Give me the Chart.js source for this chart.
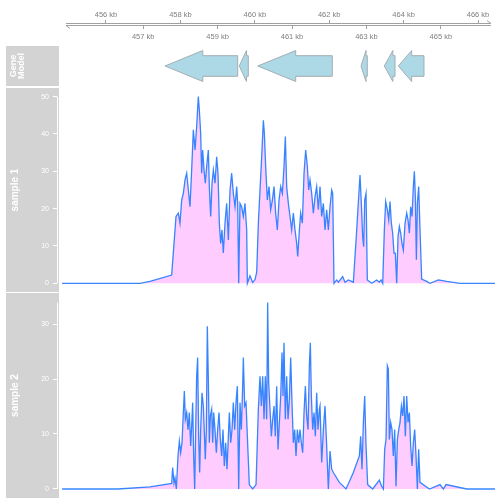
<!DOCTYPE html>
<html lang="en">
<head>
<meta charset="UTF-8">
<title>Coverage tracks</title>
<script src="https://cdn.jsdelivr.net/npm/chart.js"></script>
<style>
    * { margin: 0; padding: 0; box-sizing: border-box; }
    body { width: 504px; height: 504px; background: #fff; position: relative; overflow: hidden; }
    canvas { position: absolute; left: 0; }
</style>
</head>
<body>
<canvas id="axisChart" width="504" height="45" style="top:0px"></canvas>
<canvas id="geneChart" width="504" height="40" style="top:46px"></canvas>
<canvas id="sample1Chart" width="504" height="204" style="top:88px"></canvas>
<canvas id="sample2Chart" width="504" height="205" style="top:293px"></canvas>
<script>
// genome window in kb
const viewStart = 454.683;
const viewEnd = 466.591;

// axis tick labels (kb), even above the line, odd below
const evenTicks = [456, 458, 460, 462, 464, 466];
const oddTicks = [457, 459, 461, 463, 465];

// gene models (all on minus strand)
const geneStart = [457.586, 459.583, 460.078, 462.855, 463.481, 463.858];
const geneEnd = [459.540, 459.825, 462.083, 463.024, 463.769, 464.548];

// sample 1 coverage
const pos1 = [
    454.82, 456.914, 457.183, 457.765, 457.882, 457.945, 457.989, 458.034, 458.079, 458.124,
    458.169, 458.214, 458.258, 458.303, 458.348, 458.393, 458.437, 458.482, 458.509, 458.545,
    458.572, 458.599, 458.635, 458.670, 458.706, 458.751, 458.778, 458.814, 458.850, 458.886,
    458.930, 458.975, 459.011, 459.047, 459.083, 459.118, 459.154, 459.199, 459.244, 459.289,
    459.334, 459.378, 459.423, 459.468, 459.513, 459.540, 459.567, 459.602, 459.647, 459.692,
    459.737, 459.782, 459.800, 459.871, 459.943, 460.006, 460.051, 460.095, 460.140, 460.185,
    460.230, 460.257, 460.292, 460.337, 460.382, 460.427, 460.472, 460.517, 460.561, 460.606,
    460.651, 460.696, 460.741, 460.785, 460.821, 460.857, 460.902, 460.947, 460.991, 461.036,
    461.081, 461.126, 461.153, 461.198, 461.233, 461.278, 461.323, 461.368, 461.413, 461.448,
    461.484, 461.529, 461.574, 461.619, 461.663, 461.708, 461.753, 461.798, 461.843, 461.887,
    461.932, 461.977, 462.022, 462.067, 462.094, 462.129, 462.201, 462.246, 462.362, 462.425,
    462.515, 462.649, 462.739, 462.792, 462.828, 462.864, 462.900, 462.927, 462.954, 462.990,
    463.025, 463.142, 463.276, 463.348, 463.393, 463.438, 463.482, 463.518, 463.563, 463.599,
    463.635, 463.671, 463.706, 463.742, 463.778, 463.814, 463.850, 463.886, 463.922, 463.957,
    463.993, 464.038, 464.083, 464.119, 464.155, 464.190, 464.226, 464.262, 464.289, 464.316,
    464.343, 464.370, 464.405, 464.441, 464.486, 464.621, 464.710, 464.934, 465.158, 465.517,
    466.457
];
const cov1 = [
    0, 0, 0.5, 2.2, 17.9, 18.8, 16.1, 22.3, 24.1, 27.7,
    29.5, 25, 20.5, 30.4, 41.1, 35.7, 42, 50, 46.5, 40.2,
    29.5, 35.7, 30.4, 26.8, 31.3, 35.7, 25.9, 17.9, 26.8, 30.4,
    26.8, 33.9, 29.5, 16.1, 10.7, 14.3, 8.1, 16.1, 21.4, 11.6,
    25, 29.5, 24.1, 20.5, 25.9, 21.4, 0, 21.4, 20.5, 17.9,
    21.4, 14.3, 0, 2, 0.2, 1, 3, 16.1, 25, 33.9,
    43.7, 40.2, 31.3, 22.3, 25.9, 19.7, 22.3, 25.9, 18.8, 14.3,
    22.3, 25.9, 24.1, 31.3, 39.3, 25.9, 21.4, 17.9, 14.3, 18.8,
    14.3, 10.7, 7.2, 14.3, 18.8, 16.1, 29.5, 35.7, 31.3, 25,
    27.7, 24.1, 18.8, 23.2, 25.9, 19.7, 25.9, 17.9, 21.4, 14.3,
    19.7, 14.3, 20.5, 25, 24.1, 0, 0.9, 0.3, 1.8, 0.3,
    0.9, 0.3, 14.3, 23.2, 29, 21.4, 12.5, 9.8, 22.3, 24.1,
    0.9, 0, 0.9, 0.3, 0.9, 0, 14.3, 21.9, 19.7, 17,
    21.9, 16.1, 13.4, 8.1, 8.1, 0, 12.5, 15.2, 13.4, 10.7,
    8.9, 16.1, 18.8, 17, 13.4, 20.5, 17.9, 25.9, 30, 23.2,
    6.3, 21.4, 25.9, 14.3, 1.1, 0.5, 0, 0.9, 0.5, 0,
    0
];

// sample 2 coverage
const pos2 = [
    454.82, 456.32, 457.183, 457.765, 457.792, 457.828, 457.855, 457.891, 457.936, 457.972,
    458.007, 458.043, 458.079, 458.106, 458.133, 458.169, 458.205, 458.240, 458.276, 458.303,
    458.330, 458.357, 458.384, 458.411, 458.437, 458.464, 458.491, 458.518, 458.545, 458.581,
    458.617, 458.644, 458.670, 458.697, 458.724, 458.751, 458.778, 458.805, 458.841, 458.868,
    458.895, 458.930, 458.966, 459.002, 459.038, 459.074, 459.110, 459.145, 459.181, 459.217,
    459.253, 459.289, 459.316, 459.352, 459.387, 459.423, 459.459, 459.495, 459.531, 459.567,
    459.602, 459.638, 459.674, 459.692, 459.728, 459.764, 459.800, 459.853, 459.943, 460.033,
    460.095, 460.140, 460.176, 460.212, 460.248, 460.283, 460.319, 460.346, 460.373, 460.409,
    460.445, 460.481, 460.517, 460.552, 460.588, 460.624, 460.660, 460.696, 460.732, 460.758,
    460.785, 460.821, 460.857, 460.893, 460.929, 460.965, 461.000, 461.036, 461.072, 461.108,
    461.144, 461.180, 461.215, 461.251, 461.287, 461.323, 461.359, 461.395, 461.431, 461.466,
    461.493, 461.520, 461.556, 461.592, 461.628, 461.663, 461.699, 461.735, 461.753, 461.798,
    461.843, 461.887, 461.932, 461.977, 462.022, 462.067, 462.111, 462.273, 462.452, 462.649,
    462.810, 462.846, 462.882, 462.918, 462.954, 462.990, 463.034, 463.169, 463.348, 463.411,
    463.456, 463.491, 463.527, 463.563, 463.590, 463.617, 463.653, 463.688, 463.724, 463.760,
    463.796, 463.832, 463.868, 463.904, 463.940, 463.975, 464.011, 464.047, 464.083, 464.119,
    464.155, 464.190, 464.226, 464.262, 464.298, 464.334, 464.370, 464.405, 464.441, 464.692,
    464.979, 465.069, 465.140, 465.696, 466.457
];
const cov2 = [
    0, 0, 0.4, 1.0, 3.9, 1.1, 2, 0, 6, 8.7,
    6.6, 8.4, 13.9, 17.8, 12.7, 13.9, 10.8, 13.9, 7.8, 11.4,
    15.7, 6, 0, 10.8, 20.5, 23.9, 9.6, 3, 10.8, 17.5,
    15.1, 10.2, 5.4, 10.8, 29.6, 19.9, 8.4, 13.3, 14.5, 8.4,
    13.9, 10.8, 6.6, 10.8, 13.9, 9, 6, 10.8, 4.2, 8.4,
    3.6, 9.6, 13.9, 8.4, 10.8, 15.7, 10.8, 15.7, 18.7, 0,
    15.7, 10.8, 18.7, 23.9, 15.1, 15.7, 9.6, 0.8, 0, 0.8,
    14.5, 20.5, 15.1, 20.5, 12.7, 20.5, 12.7, 33.9, 19.3, 14.5,
    9.6, 12.7, 15.1, 9.6, 18.7, 7.2, 12.1, 16.9, 24.8, 16.9,
    26.6, 12.7, 20.5, 12.7, 16.3, 23.9, 15.7, 8.4, 10.8, 6,
    10.8, 8.4, 10.8, 8.4, 6.6, 13.9, 18.7, 13.3, 10.8, 22.4,
    26.6, 16.9, 10.8, 13.9, 9.6, 17.5, 10.8, 14.5, 15.1, 4.8,
    10.8, 15.1, 7.8, 0, 6.9, 3.6, 3, 1.2, 0, 3,
    6, 9.6, 3.6, 12.1, 16.9, 7.8, 0.8, 0, 1.6, 0.5,
    0, 7.2, 9, 22.4, 21.8, 9, 12.1, 10.8, 6, 10.8,
    0.5, 9, 10.8, 12.1, 15.1, 13.3, 16.9, 9.6, 16.9, 12.1,
    13.9, 7.8, 4.2, 8.4, 10.8, 6, 0, 7.2, 1.2, 0,
    0.8, 0, 0.8, 0, 0
];

Chart.defaults.font.family = '"Liberation Sans", Arial, sans-serif';
Chart.defaults.animation = false;

// grey title panel behind the track name and y axis
const titlePanel = {
    id: 'titlePanel',
    beforeDraw(chart) {
        const ctx = chart.ctx;
        ctx.save();
        ctx.fillStyle = '#d3d3d3';
        ctx.fillRect(6, 0, 53, chart.height);
        ctx.restore();
    }
};

// y axis line only spans 0..max of the data
const yAxisLine = {
    id: 'yAxisLine',
    afterDraw(chart) {
        const y = chart.scales.y;
        const top = Math.max(...chart.data.datasets[0].data.map(p => p.y));
        const ctx = chart.ctx;
        ctx.save();
        ctx.strokeStyle = '#ffffff';
        ctx.lineWidth = 1;
        ctx.beginPath();
        ctx.moveTo(y.right + 0.5, y.getPixelForValue(0));
        ctx.lineTo(y.right + 0.5, y.getPixelForValue(top));
        ctx.stroke();
        ctx.restore();
    }
};

// double genome axis line with strand hooks
const genomeLine = {
    id: 'genomeLine',
    afterDraw(chart) {
        const { ctx, chartArea: a } = chart;
        const l = a.left + 9, r = a.right - 9;
        ctx.save();
        ctx.strokeStyle = '#a0a0a0';
        ctx.lineWidth = 1;
        ctx.beginPath();
        ctx.moveTo(l, a.top + 0.5);
        ctx.lineTo(r, a.top + 0.5);
        ctx.lineTo(r - 4, a.top - 2.5);
        ctx.moveTo(r, a.bottom + 0.5);
        ctx.lineTo(l, a.bottom + 0.5);
        ctx.lineTo(l + 4, a.bottom + 3.5);
        ctx.stroke();
        ctx.restore();
    }
};

// gene arrows, pointing left (minus strand)
const geneArrows = {
    id: 'geneArrows',
    afterDatasetsDraw(chart) {
        const { ctx, scales: { x, y } } = chart;
        const yc = y.getPixelForValue(0.5);
        ctx.save();
        ctx.fillStyle = '#add8e6';
        ctx.strokeStyle = '#a3aeb3';
        ctx.lineWidth = 1;
        geneStart.forEach((s, i) => {
            const left = x.getPixelForValue(s);
            const right = x.getPixelForValue(geneEnd[i]);
            const w = right - left;
            const head = Math.min(38, w > 20 ? w * 0.52 : w * 0.8);
            ctx.beginPath();
            ctx.moveTo(left, yc);
            ctx.lineTo(left + head, yc - 15.5);
            ctx.lineTo(left + head, yc - 10.3);
            ctx.lineTo(right, yc - 10.3);
            ctx.lineTo(right, yc + 10.3);
            ctx.lineTo(left + head, yc + 10.3);
            ctx.lineTo(left + head, yc + 15.5);
            ctx.closePath();
            ctx.fill();
            ctx.stroke();
        });
        ctx.restore();
    }
};

// top genome axis
new Chart(document.getElementById('axisChart'), {
    type: 'scatter',
    data: { datasets: [] },
    options: {
        responsive: false,
        layout: { padding: { left: 57, right: 4, top: 0, bottom: 0 } },
        plugins: { legend: { display: false }, tooltip: { enabled: false } },
        scales: {
            x: {
                type: 'linear', position: 'top', min: viewStart, max: viewEnd,
                afterBuildTicks: s => { s.ticks = evenTicks.map(v => ({ value: v })); },
                afterFit: s => { s.height = 23; },
                ticks: { callback: v => v + ' kb', color: '#808080', font: { size: 7.5 }, padding: 1, autoSkip: false, maxRotation: 0 },
                grid: { drawOnChartArea: false, tickLength: 3, color: '#a0a0a0' },
                border: { display: false }
            },
            x2: {
                type: 'linear', axis: 'x', position: 'bottom', min: viewStart, max: viewEnd,
                afterBuildTicks: s => { s.ticks = oddTicks.map(v => ({ value: v })); },
                afterFit: s => { s.height = 20; },
                ticks: { callback: v => v + ' kb', color: '#808080', font: { size: 7.5 }, padding: 3, autoSkip: false, maxRotation: 0 },
                grid: { drawOnChartArea: false, tickLength: 4, color: '#a0a0a0' },
                border: { display: false }
            },
            y: { display: false, min: 0, max: 1 }
        }
    },
    plugins: [genomeLine]
});

// gene model track
new Chart(document.getElementById('geneChart'), {
    type: 'scatter',
    data: { datasets: [] },
    options: {
        responsive: false,
        layout: { padding: { left: 0, right: 4, top: 0, bottom: 0 } },
        plugins: {
            legend: { display: false },
            tooltip: { enabled: false },
            title: {
                display: true, position: 'left', text: ['Gene', 'Model'], color: '#ffffff',
                font: { size: 9, weight: 'bold', lineHeight: 0.9 },
                padding: { top: 9, bottom: 31.8 }
            }
        },
        scales: {
            x: { type: 'linear', display: false, min: viewStart, max: viewEnd },
            y: { display: false, min: 0, max: 1 }
        }
    },
    plugins: [titlePanel, geneArrows]
});

function coverageChart(id, name, pos, cov, yMin, yMax) {
    return new Chart(document.getElementById(id), {
        type: 'line',
        data: {
            datasets: [{
                data: pos.map((x, i) => ({ x: x, y: cov[i] })),
                borderColor: 'rgba(20,115,255,0.85)',
                backgroundColor: '#ffccff',
                borderWidth: 1.3,
                fill: 'origin',
                pointRadius: 0,
                tension: 0
            }]
        },
        options: {
            responsive: false,
            layout: { padding: { left: 0, right: 4, top: 0, bottom: 0 } },
            plugins: {
                legend: { display: false },
                tooltip: { enabled: false },
                title: {
                    display: true, position: 'left', text: name, color: '#ffffff',
                    font: { size: 10, weight: 'bold', lineHeight: 1.2 },
                    padding: { top: 9, bottom: 0 }
                }
            },
            scales: {
                x: { type: 'linear', display: false, min: viewStart, max: viewEnd },
                y: {
                    min: yMin, max: yMax,
                    afterFit: s => { s.width = 36; s.paddingTop = 0; s.paddingBottom = 0; },
                    ticks: { stepSize: 10, includeBounds: false, color: '#ffffff', font: { size: 7 }, padding: 4 },
                    grid: { drawOnChartArea: false, tickLength: 4, color: '#ffffff' },
                    border: { display: false }
                }
            }
        },
        plugins: [titlePanel, yAxisLine]
    });
}

coverageChart('sample1Chart', 'sample 1', pos1, cov1, -2.33, 52.32);
coverageChart('sample2Chart', 'sample 2', pos2, cov2, -1.64, 35.64);
</script>
</body>
</html>
